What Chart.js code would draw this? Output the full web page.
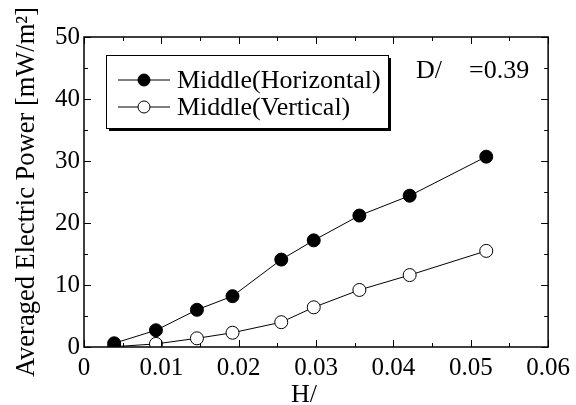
<!DOCTYPE html>
<html>
<head>
<meta charset="utf-8">
<script src="https://cdn.jsdelivr.net/npm/chart.js@4"></script>
<style>
  html, body { margin: 0; padding: 0; background: #fff; }
  #wrap { width: 576px; height: 405px; }
</style>
</head>
<body>
<div id="wrap"><canvas id="graph" width="576" height="405"></canvas></div>
<script>
// values
const hRatio = [0.0039, 0.0093, 0.0146, 0.0192, 0.0255, 0.0297, 0.0356, 0.0421, 0.0520];
const horizontal = [0.6, 2.7, 6.0, 8.2, 14.1, 17.2, 21.2, 24.4, 30.7];
const vertical = [0.05, 0.5, 1.4, 2.3, 4.0, 6.4, 9.2, 11.6, 15.5];
const seriesNames = ["Middle(Horizontal)", "Middle(Vertical)"];
const xTicks = [0, 0.01, 0.02, 0.03, 0.04, 0.05, 0.06];
const yTicks = [0, 10, 20, 30, 40, 50];

const FONT = "'Liberation Serif', serif";
Chart.defaults.font.family = FONT;
Chart.defaults.color = "#000";

function pts(ys) {
  return hRatio.map((x, i) => ({ x: x, y: ys[i] }));
}

// frame, inward ticks on all four sides, legend box and labels
const decorations = {
  id: "decorations",
  afterDraw(chart) {
    const ctx = chart.ctx;
    const a = chart.chartArea;
    const xs = chart.scales.x;
    const ys = chart.scales.y;
    ctx.save();
    ctx.strokeStyle = "#000";
    ctx.lineWidth = 1.5;
    ctx.strokeRect(a.left, a.top, a.right - a.left, a.bottom - a.top);

    ctx.lineWidth = 1;
    ctx.beginPath();
    for (let v = 0; v <= 0.0601; v += 0.005) {
      const px = Math.round(xs.getPixelForValue(v)) + 0.5;
      const len = (Math.round(v * 1000) % 10 === 0) ? 7 : 4;
      ctx.moveTo(px, a.bottom); ctx.lineTo(px, a.bottom - len);
      ctx.moveTo(px, a.top); ctx.lineTo(px, a.top + len);
    }
    for (let v = 0; v <= 50; v += 5) {
      const py = Math.round(ys.getPixelForValue(v)) + 0.5;
      const len = (v % 10 === 0) ? 7 : 4;
      ctx.moveTo(a.left, py); ctx.lineTo(a.left + len, py);
      ctx.moveTo(a.right, py); ctx.lineTo(a.right - len, py);
    }
    ctx.stroke();

    // legend box with drop shadow
    const bx = 106, by = 55, bw = 282, bh = 73;
    ctx.fillStyle = "#000";
    ctx.fillRect(bx + 3, by + 3, bw, bh);
    ctx.fillStyle = "#fff";
    ctx.fillRect(bx, by, bw, bh);
    ctx.lineWidth = 1;
    ctx.strokeRect(bx + 0.5, by + 0.5, bw, bh);

    const rows = [80, 107];
    chart.data.datasets.forEach((ds, i) => {
      const y = rows[i];
      ctx.beginPath();
      ctx.moveTo(118, y); ctx.lineTo(170, y);
      ctx.strokeStyle = "#000";
      ctx.lineWidth = 1;
      ctx.stroke();
      ctx.beginPath();
      ctx.arc(144, y, 6, 0, Math.PI * 2);
      ctx.fillStyle = ds.pointBackgroundColor;
      ctx.fill();
      ctx.stroke();
      ctx.fillStyle = "#000";
      ctx.font = "26px " + FONT;
      ctx.textBaseline = "middle";
      ctx.textAlign = "left";
      ctx.fillText(ds.label, 177, y + 1);
    });

    ctx.font = "26px " + FONT;
    ctx.textBaseline = "alphabetic";
    ctx.fillText("D/", 416, 78);
    ctx.fillText("=0.39", 469, 78);

    // axis titles
    ctx.fillText("H/", 291, 402);
    ctx.translate(34, 192);
    ctx.rotate(-Math.PI / 2);
    ctx.textAlign = "center";
    ctx.font = "26.5px " + FONT;
    ctx.fillText("Averaged Electric Power [mW/m\u00B2]", 0, 0);
    ctx.restore();
  }
};

function draw() {
  const ctx = document.getElementById("graph").getContext("2d");
  new Chart(ctx, {
    type: "scatter",
    data: {
      datasets: [
        {
          label: seriesNames[0],
          data: pts(horizontal),
          showLine: true,
          borderColor: "#000",
          borderWidth: 1,
          pointRadius: 6.5,
          pointBackgroundColor: "#000",
          pointBorderColor: "#000",
          pointBorderWidth: 1,
        },
        {
          label: seriesNames[1],
          data: pts(vertical),
          showLine: true,
          borderColor: "#000",
          borderWidth: 1,
          pointRadius: 6.5,
          pointBackgroundColor: "#fff",
          pointBorderColor: "#000",
          pointBorderWidth: 1,
        },
      ],
    },
    options: {
      responsive: false,
      animation: false,
      layout: { padding: { left: 0, right: 24, top: 37, bottom: 0 } },
      plugins: {
        legend: { display: false },
        tooltip: { enabled: false },
      },
      scales: {
        x: {
          type: "linear",
          min: 0,
          max: 0.06,
          afterFit: (s) => { s.height = 58; },
          afterBuildTicks: (s) => { s.ticks = xTicks.map((v) => ({ value: v })); },
          grid: { display: false, drawTicks: false },
          border: { display: false },
          ticks: {
            color: "#000",
            padding: 6,
            maxRotation: 0,
            font: { family: FONT, size: 25 },
            callback: (v) => (v === 0 ? "0" : v.toFixed(2)),
          },
        },
        y: {
          type: "linear",
          min: 0,
          max: 50,
          afterFit: (s) => { s.width = 84; },
          afterBuildTicks: (s) => { s.ticks = yTicks.map((v) => ({ value: v })); },
          grid: { display: false, drawTicks: false },
          border: { display: false },
          ticks: {
            color: "#000",
            padding: 4,
            font: { family: FONT, size: 25 },
          },
        },
      },
    },
    plugins: [decorations],
  });
}

document.fonts.load("25px 'Liberation Serif'").then(draw, draw);
</script>
</body>
</html>
